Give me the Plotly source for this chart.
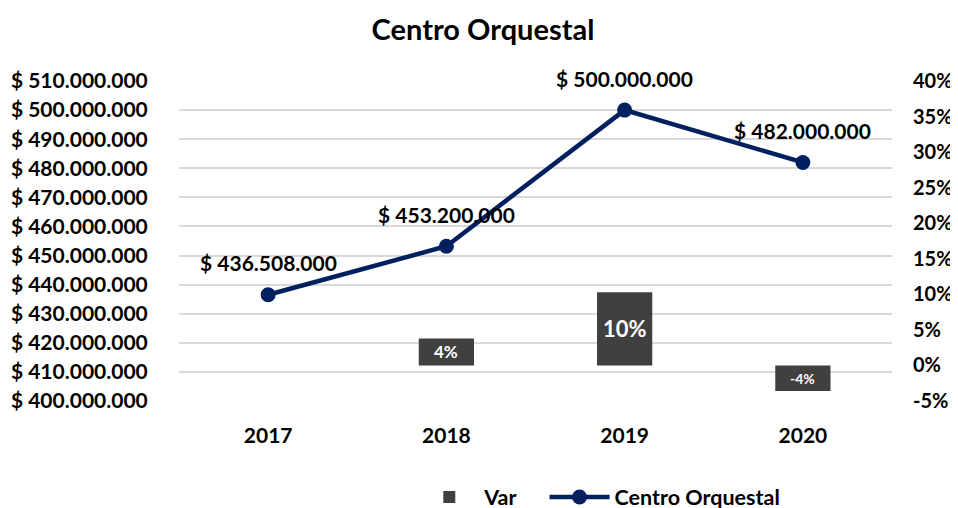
import plotly.graph_objects as go

years = ["2017", "2018", "2019", "2020"]
revenue = [436508000, 453200000, 500000000, 482000000]
var_years = ["2018", "2019", "2020"]
var_pct = [0.038, 0.103, -0.036]
var_text = ["4%", "10%", "-4%"]
var_text_size = [17, 22, 14]

left_ticks = [400000000 + 10000000 * i for i in range(12)]
left_ticktext = ["$ " + f"{v:,}".replace(",", ".") for v in left_ticks]
right_ticks = [-0.05, 0, 0.05, 0.10, 0.15, 0.20, 0.25, 0.30, 0.35, 0.40]
right_ticktext = ["-5%", "0%", "5%", "10%", "15%", "20%", "25%", "30%", "35%", "40%"]

FONT = "Lato"
NAVY = "#002060"
BAR = "#404040"
FS = 21
CLEAR = "rgba(0,0,0,0)"
W, H = 950, 500  # page adds an 8px body margin

fig = go.Figure()
fig.add_trace(go.Bar(
    x=var_years, y=var_pct, name="<b>Var</b>\u00a0\u00a0\u00a0\u00a0", yaxis="y2",
    marker=dict(color=BAR, line=dict(width=0)),
    width=0.31,
))
fig.add_trace(go.Scatter(
    x=years, y=revenue, name="<b>Centro Orquestal</b>", mode="lines+markers",
    line=dict(color=NAVY, width=4.5),
    marker=dict(color=NAVY, size=15),
))

# category axis positions are serial numbers (0..n-1)
for x, v in zip(years, revenue):
    fig.add_annotation(
        x=years.index(x), y=v, xref="x", yref="y", yshift=32, showarrow=False,
        text="<b>$ " + f"{v:,}".replace(",", ".") + "</b>",
        font=dict(family=FONT, size=FS, color="black"),
    )
for x, v, t, s in zip(var_years, var_pct, var_text, var_text_size):
    fig.add_annotation(
        x=years.index(x), y=v / 2, xref="x", yref="y2", showarrow=False,
        text="<b>" + t + "</b>",
        font=dict(family=FONT, size=s, color="white"),
    )

fig.update_layout(
    width=W, height=H,
    margin=dict(l=171, r=66, t=73, b=107, autoexpand=False),
    paper_bgcolor="white", plot_bgcolor="white",
    font=dict(family=FONT, size=FS, color="black"),
    title=dict(text="<b>Centro Orquestal</b>", x=0.5, xanchor="center",
               y=1 - 22 / H, yanchor="middle",
               font=dict(family=FONT, size=29, color="black")),
    xaxis=dict(type="category", categoryorder="array", categoryarray=years,
               range=[-0.5, len(years) - 0.5], autorange=False,
               tickvals=years, ticktext=["<b>" + y + "</b>" for y in years],
               showgrid=False, showline=False, ticks="outside", ticklen=16,
               tickcolor=CLEAR, tickangle=0,
               tickfont=dict(family=FONT, size=FS, color="black")),
    yaxis=dict(range=[400000000, 510000000], tickvals=left_ticks,
               ticktext=["<b>" + t + "</b>" for t in left_ticktext],
               showgrid=True, gridcolor="#d9d9d9", gridwidth=1.5, zeroline=False,
               showline=False, ticks="outside", ticklen=26, tickcolor=CLEAR,
               tickfont=dict(family=FONT, size=FS, color="black")),
    yaxis2=dict(range=[-0.05, 0.40], tickvals=right_ticks,
                ticktext=["<b>" + t + "</b>" for t in right_ticktext],
                overlaying="y", side="right", showgrid=False, zeroline=False,
                showline=False, ticks="outside", ticklen=16, tickcolor=CLEAR,
                tickfont=dict(family=FONT, size=20, color="black")),
    legend=dict(orientation="h", x=0.33, xanchor="left", yref="container",
                y=11 / H, yanchor="middle", itemwidth=60,
                font=dict(family=FONT, size=21.5, color="black")),
    showlegend=True,
)

fig.write_html("out.html")
